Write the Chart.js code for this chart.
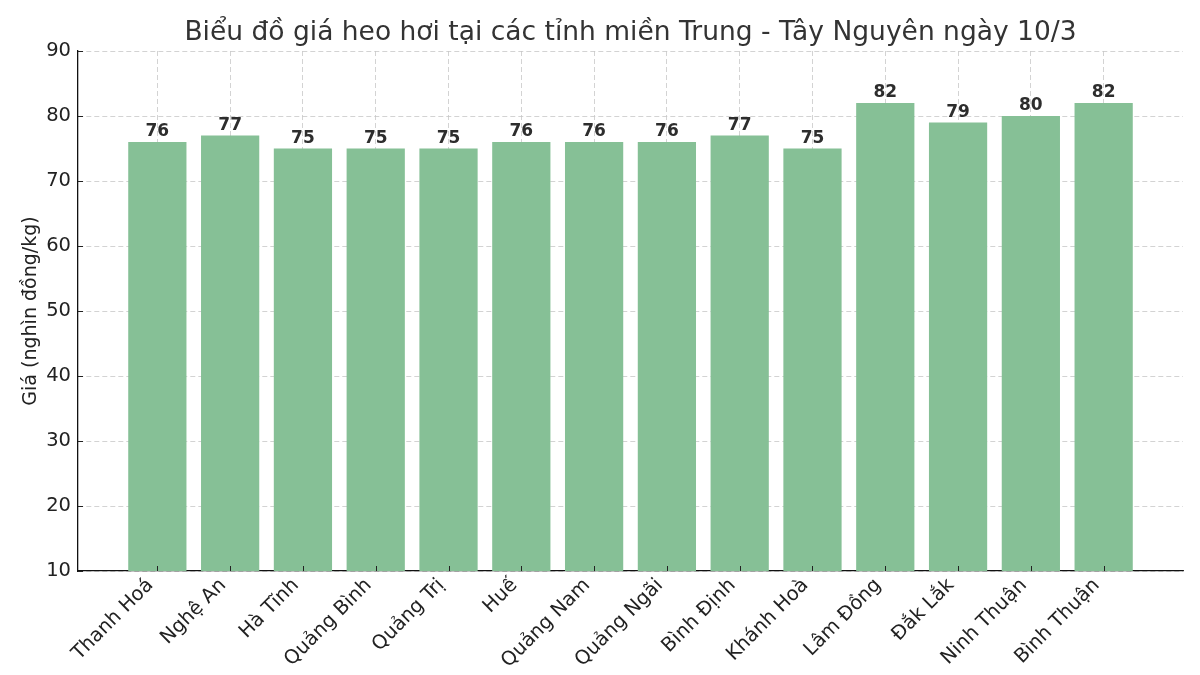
<!DOCTYPE html>
<html>
<head>
<meta charset="utf-8">
<script src="https://cdn.jsdelivr.net/npm/chart.js@4"></script>
<style>
  html, body { margin: 0; padding: 0; background: #fff; }
  #wrap { width: 1200px; height: 675px; }
</style>
</head>
<body>
<div id="wrap"><canvas id="priceChart" width="1200" height="675"></canvas></div>
<script>
// data
const provinces = ["Thanh Hoá", "Nghệ An", "Hà Tĩnh", "Quảng Bình", "Quảng Trị", "Huế", "Quảng Nam",
  "Quảng Ngãi", "Bình Định", "Khánh Hoà", "Lâm Đồng", "Đắk Lắk", "Ninh Thuận", "Bình Thuận"];
const prices = [76, 77, 75, 75, 75, 76, 76, 76, 77, 75, 82, 79, 80, 82];
const yTicks = [10, 20, 30, 40, 50, 60, 70, 80, 90];
const chartTitle = "Biểu đồ giá heo hơi tại các tỉnh miền Trung - Tây Nguyên ngày 10/3";

const BAR_COLOR = "#86c096";
const GRID_COLOR = "#c8c8c8";
const FONT = "'DejaVu Sans', sans-serif";

// title centred over the plot area, like matplotlib does
const plotTitle = {
  id: "plotTitle",
  afterDraw(chart) {
    const { ctx: c, chartArea: a } = chart;
    c.save();
    c.font = `26.5px ${FONT}`;
    c.fillStyle = "#333";
    c.textAlign = "center";
    c.textBaseline = "middle";
    c.fillText(chartTitle, (a.left + a.right) / 2, 33);
    c.restore();
  }
};

// value labels on top of bars
const barLabels = {
  id: "barLabels",
  afterDatasetsDraw(chart) {
    const c = chart.ctx;
    const meta = chart.getDatasetMeta(0);
    c.save();
    c.font = `bold 17px ${FONT}`;
    c.fillStyle = "#2d2d2d";
    c.textAlign = "center";
    c.textBaseline = "alphabetic";
    meta.data.forEach((bar, i) => c.fillText(String(prices[i]), bar.x, bar.y - 6));
    c.restore();
  }
};

// matplotlib-like inward ticks
const innerTicks = {
  id: "innerTicks",
  afterDatasetsDraw(chart) {
    const { ctx: c, chartArea: a, scales } = chart;
    c.save();
    c.strokeStyle = "#222";
    c.lineWidth = 1;
    c.beginPath();
    provinces.forEach((_, i) => {
      const x = Math.round(scales.x.getPixelForValue(i)) + 0.5;
      c.moveTo(x, a.bottom); c.lineTo(x, a.bottom - 5);
    });
    yTicks.forEach(v => {
      const y = Math.round(scales.y.getPixelForValue(v)) + 0.5;
      c.moveTo(a.left, y); c.lineTo(a.left + 5, y);
    });
    c.stroke();
    c.restore();
  }
};

new Chart(document.getElementById("priceChart"), {
  type: "bar",
  data: {
    datasets: [{
      data: prices.map((p, i) => ({ x: i, y: p })),
      backgroundColor: BAR_COLOR,
      borderWidth: 0,
      barPercentage: 0.8,
      categoryPercentage: 1
    }]
  },
  options: {
    responsive: false,
    animation: false,
    layout: { padding: { left: 0, right: 17, top: 51, bottom: 0 } },
    plugins: {
      legend: { display: false },
      tooltip: { enabled: false },
      title: { display: false }
    },
    scales: {
      x: {
        type: "linear",
        min: -1.09,
        max: 14.09,
        offset: false,
        afterBuildTicks: s => { s.ticks = provinces.map((_, i) => ({ value: i })); },
        afterFit: s => { s.height = 104; },
        ticks: {
          callback: v => provinces[v] ?? "",
          autoSkip: false,
          minRotation: 45,
          maxRotation: 45,
          padding: 3,
          labelOffset: -7,
          color: "#222",
          font: { family: FONT, size: 19.5 }
        },
        grid: { color: GRID_COLOR, lineWidth: 0.8, drawTicks: false, offset: false },
        border: { color: "#111", width: 1.3, dash: [5, 3] }
      },
      y: {
        min: 10,
        max: 90,
        afterBuildTicks: s => { s.ticks = yTicks.map(v => ({ value: v })); },
        afterFit: s => { s.width = 78; },
        ticks: {
          padding: 7,
          color: "#222",
          font: { family: FONT, size: 19.5 }
        },
        title: {
          display: true,
          text: "Giá (nghìn đồng/kg)",
          color: "#222",
          font: { family: FONT, size: 19 },
          padding: { top: 20, bottom: 0 }
        },
        grid: { color: GRID_COLOR, lineWidth: 0.8, drawTicks: false },
        border: { color: "#111", width: 1.3, dash: [5, 3] }
      }
    }
  },
  plugins: [plotTitle, barLabels, innerTicks]
});
</script>
</body>
</html>
